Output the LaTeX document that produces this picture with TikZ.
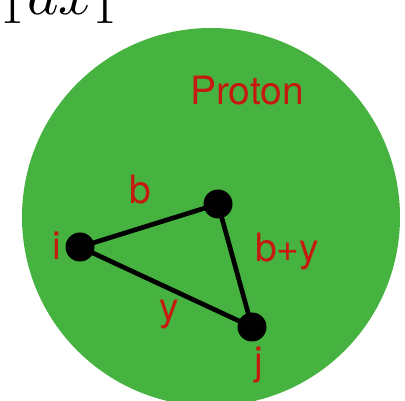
\documentclass[tikz,border=0pt]{standalone}
\usepackage{graphicx}
\usepackage{fontspec}
\newfontfamily\labfont{TeX Gyre Heros}
\definecolor{protongreen}{HTML}{46B340}
\definecolor{labred}{HTML}{C41A0F}
\begin{document}
\begin{tikzpicture}[x=1pt,y=-1pt,
  dot/.style={circle,fill=black,minimum size=29pt,inner sep=0pt},
  lab/.style={text=labred,font=\labfont\fontsize{39}{42}\selectfont,inner sep=0pt,anchor=base},
  edge/.style={line width=4.7pt}]
\useasboundingbox (0,0) rectangle (405,401);
\begin{scope}
\clip (0,0) rectangle (405,401);
\fill[protongreen] (211,217) circle[radius=189];
\node[anchor=base west,inner sep=0pt] (formula) at (0,15) {\scalebox{6}{${}_1d x_1$}};
\end{scope}
\node[lab] (proton) at (247,105) {Proton};
\node[dot] (i) at (80,247) {};
\node[dot] (k) at (218,204) {};
\node[dot] (j) at (252,327) {};
\draw[edge] (i.center) -- (k.center) -- (j.center) -- (i.center);
\node[lab] (lb) at (140,204) {b};
\node[lab] (li) at (57,260) {i};
\node[lab] (lby) at (287,262) {b+y};
\node[lab] (ly) at (169,320) {y};
\node[lab] (lj) at (259,374) {j};
\end{tikzpicture}
\end{document}
